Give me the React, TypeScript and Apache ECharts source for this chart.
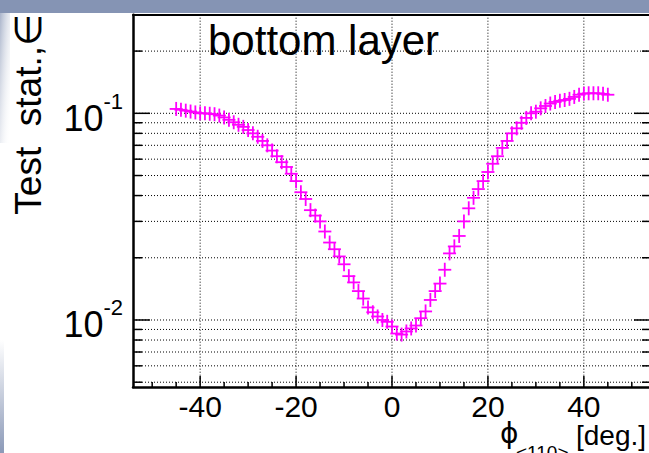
import React, { useEffect, useRef } from "react";
import * as echarts from "echarts";

const xValues = [
  -45, -44, -43, -42, -41, -40, -39, -38, -37, -36, -35, -34, -33, -32, -31, -30,
  -29, -28, -27, -26, -25, -24, -23, -22, -21, -20, -19, -18, -17, -16, -15, -14,
  -13, -12, -11, -10, -9, -8, -7, -6, -5, -4, -3, -2, -1, 0, 1, 2, 3, 4, 5, 6, 7,
  8, 9, 10, 11, 12, 13, 14, 15, 16, 17, 18, 19, 20, 21, 22, 23, 24, 25, 26, 27,
  28, 29, 30, 31, 32, 33, 34, 35, 36, 37, 38, 39, 40, 41, 42, 43, 44, 45,
];
const yValues = [
  0.105, 0.104, 0.103, 0.102, 0.101, 0.1, 0.1, 0.0995, 0.099, 0.0975, 0.0955, 0.093,
  0.0905, 0.088, 0.086, 0.083, 0.08, 0.077, 0.0735, 0.07, 0.066, 0.062, 0.058, 0.055,
  0.051, 0.047, 0.0415, 0.0385, 0.034, 0.032, 0.03, 0.0268, 0.0237, 0.022, 0.0203,
  0.0186, 0.0163, 0.0152, 0.0138, 0.0127, 0.0115, 0.0109, 0.0104, 0.01, 0.0098,
  0.0093, 0.0086, 0.0085, 0.0088, 0.0091, 0.0094, 0.0102, 0.011, 0.0125, 0.0138,
  0.015, 0.0175, 0.021, 0.0227, 0.0255, 0.03, 0.0347, 0.039, 0.043, 0.047, 0.052,
  0.057, 0.062, 0.068, 0.0735, 0.08, 0.0846, 0.09, 0.095, 0.1, 0.1018, 0.1057,
  0.1085, 0.1115, 0.1135, 0.115, 0.116, 0.1175, 0.12, 0.123, 0.1245, 0.125, 0.125,
  0.125, 0.1242, 0.123,
];
const xTickMajor = [-40, -20, 0, 20, 40];
const xTickMinor = [-50, -45, -35, -30, -25, -15, -10, -5, 5, 10, 15, 25, 30, 35, 45, 50];
const yTickMajor = [0.01, 0.1];
const yTickMinor = [0.005, 0.006, 0.007, 0.008, 0.009, 0.02, 0.03, 0.04, 0.05, 0.06, 0.07, 0.08, 0.09, 0.2];
const X_MIN = -54;
const X_MAX = 54;
const Y_MIN = 0.00474;
const Y_MAX = 0.3;
const titleText = "bottom layer";
const yTitleText = "Test  stat.,\u2208";
const xTitlePhi = "\u03d5";
const xTitleSub = "<110>";
const xTitleUnit = "[deg.]";

const FONT = "'Liberation Sans', Arial, Helvetica, sans-serif";
const MAGENTA = "#ff00ff";
const CHART_W = 649;
const CHART_H = 453;

export default function App() {
  const ref = useRef<HTMLDivElement>(null);
  useEffect(() => {
    document.body.style.margin = "0";
    document.body.style.overflow = "hidden";
    const chart = echarts.init(ref.current!, null, { renderer: "svg" });

    const yGridData = [
      ...yTickMajor.map((v) => [X_MIN, v, 1]),
      ...yTickMinor.map((v) => [X_MIN, v, 0]),
    ];
    const xGridData = [
      ...xTickMajor.map((v) => [v, Y_MIN, 1]),
      ...xTickMinor.map((v) => [v, Y_MIN, 0]),
    ];
    const points = xValues.map((x, i) => [x, yValues[i]]);

    const dotted = { stroke: "#000", lineWidth: 1, lineDash: [1, 2] };

    chart.setOption({
      animation: false,
      backgroundColor: "#ffffff",
      grid: {
        left: 133,
        top: 14.7,
        width: 518,
        height: 372.3,
        show: false,
        containLabel: false,
        outerBoundsMode: "none",
      },
      xAxis: [
        {
          type: "value",
          min: X_MIN,
          max: X_MAX,
          axisLine: { show: true, onZero: false, lineStyle: { color: "#000", width: 2.5 } },
          axisTick: { show: false },
          splitLine: { show: false },
          axisLabel: {
            color: "#000",
            fontSize: 30,
            fontFamily: FONT,
            margin: 4,
            lineHeight: 30,
            formatter: (v: number) => (xTickMajor.includes(v) ? String(v) : ""),
          },
        },
        {
          type: "value",
          position: "top",
          min: X_MIN,
          max: X_MAX,
          axisLine: { show: true, onZero: false, lineStyle: { color: "#000", width: 2 } },
          axisTick: { show: false },
          splitLine: { show: false },
          axisLabel: { show: false },
        },
      ],
      yAxis: {
        type: "log",
        logBase: 10,
        min: Y_MIN,
        max: Y_MAX,
        axisLine: { show: true, onZero: false, lineStyle: { color: "#000", width: 2.5 } },
        axisTick: { show: false },
        splitLine: { show: false },
        axisLabel: {
          margin: 10,
          formatter: (v: number) => {
            const l = Math.log10(v);
            const e = Math.round(l);
            if (Math.abs(l - e) > 1e-6) return "";
            return "{b|10}{s|" + e + "}";
          },
          rich: {
            b: { fontSize: 36, fontFamily: FONT, color: "#000", padding: [10, 0, 0, 0] },
            s: { fontSize: 22, fontFamily: FONT, color: "#000", verticalAlign: "top" },
          },
        },
      },
      graphic: [
        {
          type: "rect",
          shape: { x: 0, y: 0, width: CHART_W, height: 13 },
          style: { fill: "#8594b4" },
          silent: true,
        },
        {
          type: "rect",
          shape: { x: 0, y: 13, width: 10, height: 130 },
          style: {
            fill: new echarts.graphic.LinearGradient(0, 0, 1, 1, [
              { offset: 0, color: "rgba(133,148,180,0.7)" },
              { offset: 1, color: "rgba(255,255,255,0)" },
            ]),
          },
          silent: true,
        },
        {
          type: "rect",
          shape: { x: 0, y: 340, width: 4, height: 113 },
          style: {
            fill: new echarts.graphic.LinearGradient(0, 0, 0, 1, [
              { offset: 0, color: "rgba(133,148,180,0)" },
              { offset: 1, color: "rgba(133,148,180,0.95)" },
            ]),
          },
          silent: true,
        },
        {
          type: "text",
          x: 208,
          y: 19,
          style: {
            text: titleText,
            fontSize: 42,
            fontFamily: FONT,
            fill: "#000",
            textVerticalAlign: "top",
          },
        },
        {
          type: "text",
          x: 28,
          y: 14,
          rotation: Math.PI / 2,
          style: {
            text: yTitleText,
            fontSize: 37,
            fontFamily: FONT,
            fill: "#000",
            align: "right",
            verticalAlign: "middle",
          },
        },
        {
          type: "text",
          x: 500,
          y: 447,
          style: { text: xTitlePhi, fontSize: 28, fontFamily: "'DejaVu Sans', sans-serif", fill: "#000", verticalAlign: "bottom" },
        },
        {
          type: "text",
          x: 516,
          y: 443,
          style: { text: xTitleSub, fontSize: 19, fontFamily: FONT, fill: "#000", verticalAlign: "top" },
        },
        {
          type: "text",
          x: 576,
          y: 421,
          style: { text: xTitleUnit, fontSize: 28, fontFamily: FONT, fill: "#000", verticalAlign: "top" },
        },
      ],
      series: [
        {
          type: "custom",
          name: "ygrid",
          data: yGridData,
          silent: true,
          z: 1,
          renderItem: (params: any, api: any) => {
            const cs = params.coordSys;
            const y = api.coord([X_MIN, api.value(1)])[1];
            const major = api.value(2) === 1;
            const len = major ? 17 : 9;
            const x0 = cs.x;
            const x1 = cs.x + cs.width;
            return {
              type: "group",
              children: [
                { type: "line", shape: { x1: x0, y1: y, x2: x1, y2: y }, style: dotted },
                { type: "line", shape: { x1: x0, y1: y, x2: x0 + len, y2: y }, style: { stroke: "#000", lineWidth: 1.5 } },
                { type: "line", shape: { x1: x1 - len, y1: y, x2: x1, y2: y }, style: { stroke: "#000", lineWidth: 1.5 } },
              ],
            };
          },
        },
        {
          type: "custom",
          name: "xgrid",
          data: xGridData,
          silent: true,
          z: 1,
          renderItem: (params: any, api: any) => {
            const cs = params.coordSys;
            const x = api.coord([api.value(0), Y_MIN])[0];
            const major = api.value(2) === 1;
            const y0 = cs.y;
            const y1 = cs.y + cs.height;
            const children: any[] = [
              { type: "line", shape: { x1: x, y1: y1, x2: x, y2: y1 - (major ? 11 : 5) }, style: { stroke: "#000", lineWidth: 1.5 } },
            ];
            if (major) {
              children.push({ type: "line", shape: { x1: x, y1: y0, x2: x, y2: y1 }, style: dotted });
            }
            return { type: "group", children };
          },
        },
        {
          type: "custom",
          name: "Test stat.",
          data: points,
          z: 5,
          renderItem: (params: any, api: any) => {
            const p = api.coord([api.value(0), api.value(1)]);
            return {
              type: "group",
              children: [
                { type: "line", shape: { x1: p[0] - 6.5, y1: p[1], x2: p[0] + 6.5, y2: p[1] }, style: { stroke: MAGENTA, lineWidth: 1.8 } },
                { type: "line", shape: { x1: p[0], y1: p[1] - 7, x2: p[0], y2: p[1] + 7 }, style: { stroke: MAGENTA, lineWidth: 1.8 } },
              ],
            };
          },
        },
      ],
    });
    return () => chart.dispose();
  }, []);
  return <div ref={ref} style={{ width: CHART_W, height: CHART_H, position: "fixed", left: 0, top: 0 }} />;
}
